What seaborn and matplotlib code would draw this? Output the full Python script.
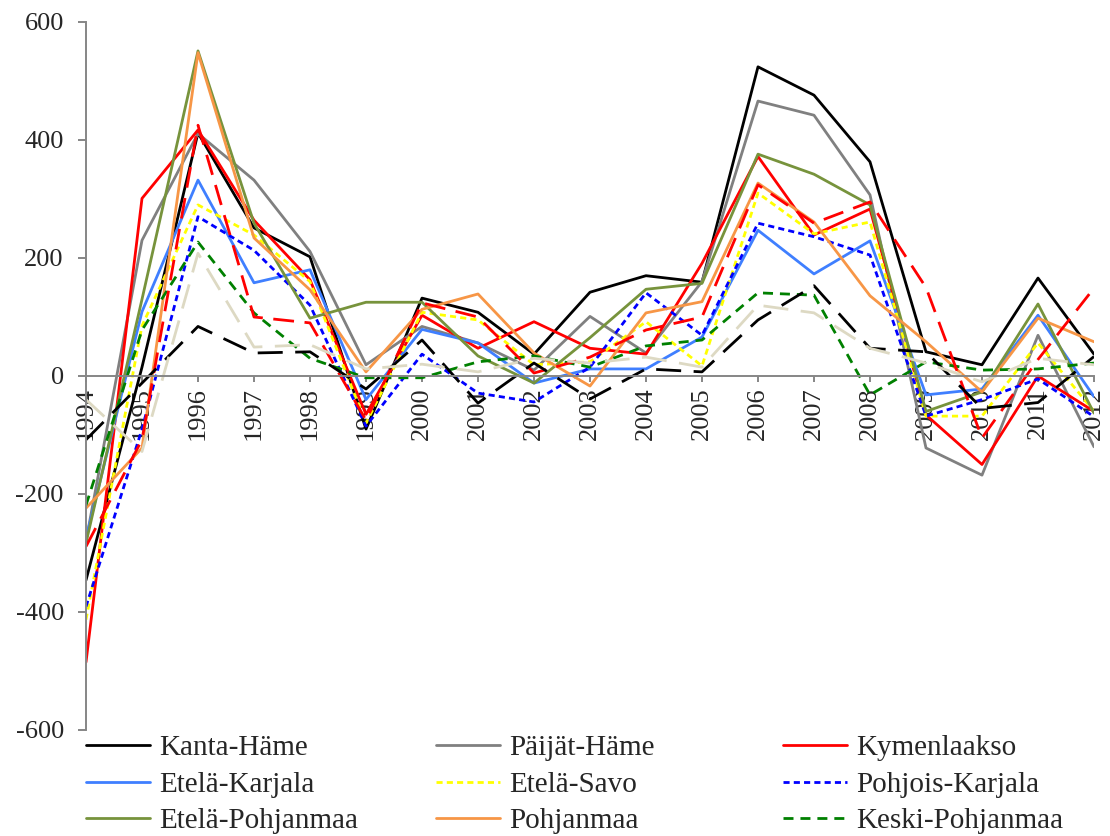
# ── Imports ──────────────────────────────────────────────────────────
import numpy as np
import pandas as pd
import matplotlib
matplotlib.use('Agg')
import matplotlib.pyplot as plt
from matplotlib.lines import Line2D
import seaborn as sns

# ── 1. Data ──────────────────────────────────────────────────────────
years = list(range(1994, 2013))

kanta_hame      = [-346, 15, 412, 251, 202, -90, 132, 108, 37, 142, 170, 159, 524, 476, 363, 41, 19, 166, 37]
paijat_hame     = [-280, 230, 411, 332, 211, 19, 84, 56, 10, 101, 39, 160, 466, 442, 307, -122, -168, 69, -120]
kymenlaakso     = [-485, 301, 417, 264, 163, -65, 103, 47, 92, 47, 37, 191, 372, 239, 283, -66, -150, 0, -60]
etela_karjala   = [-275, 109, 332, 158, 180, -40, 79, 56, -12, 12, 12, 66, 247, 173, 229, -32, -22, 103, -35]
etela_savo      = [-413, 85, 290, 239, 160, -80, 108, 95, 19, 24, 92, 17, 310, 241, 261, -68, -68, 56, -60]
pohjois_karjala = [-391, -90, 270, 213, 120, -85, 37, -29, -44, 15, 141, 69, 259, 236, 205, -68, -40, -5, -69]
etela_pohjanmaa = [-283, 130, 551, 259, 98, 125, 125, 34, -12, 65, 147, 157, 376, 342, 290, -60, -27, 122, -63]
pohjanmaa       = [-224, -122, 548, 234, 146, 7, 113, 139, 39, -17, 107, 126, 327, 261, 136, 58, -27, 98, 58]
keski_pohjanmaa = [-219, 78, 227, 107, 30, -3, -3, 24, 34, 15, 51, 61, 141, 137, -32, 24, 10, 12, 22]
# three more series are drawn but their legend entries are cut off in the original
extra_red       = [-289, -108, 425, 100, 90, -75, 124, 100, 5, 32, 78, 100, 324, 259, 295, 150, -105, 28, 149]
extra_black     = [-108, -12, 84, 39, 41, -22, 61, -46, 22, -39, 12, 7, 95, 153, 47, 41, -55, -45, 33]
extra_beige     = [-40, -128, 208, 49, 53, 12, 20, 7, 30, 22, 32, 15, 120, 107, 47, 22, -10, 30, 19]

names = ['Kanta-Häme', 'Päijät-Häme', 'Kymenlaakso',
         'Etelä-Karjala', 'Etelä-Savo', 'Pohjois-Karjala',
         'Etelä-Pohjanmaa', 'Pohjanmaa', 'Keski-Pohjanmaa',
         'sarja 10', 'sarja 11', 'sarja 12']
values = [kanta_hame, paijat_hame, kymenlaakso,
          etela_karjala, etela_savo, pohjois_karjala,
          etela_pohjanmaa, pohjanmaa, keski_pohjanmaa,
          extra_red, extra_black, extra_beige]

colors = ['#000000', '#808080', '#FF0000',
          '#3F7FFF', '#FFFF00', '#0000FF',
          '#77933C', '#F79646', '#008000',
          '#FF0000', '#000000', '#DDD9C3']
# dash patterns in units of line width ('' = solid)
dashes = ['', '', '',
          '', (2.2, 1.5), (2.2, 1.5),
          '', '', (3.6, 2.5),
          (7.5, 3.8), (9, 4.5), (9, 4.5)]

df = pd.DataFrame({
    'year': np.tile(years, len(names)),
    'region': np.repeat(names, len(years)),
    'value': np.concatenate(values),
})

# ── 2. Style ─────────────────────────────────────────────────────────
sns.set_theme(style='white')
plt.rcParams['font.family'] = ['Liberation Serif', 'DejaVu Serif']
plt.rcParams['axes.unicode_minus'] = False

LW = 2.0
AXIS_GRAY = '#868686'

fig = plt.figure(figsize=(11.1, 8.36), dpi=100)
ax = fig.add_axes([86 / 1110, 1 - 730 / 836, (1094 - 86) / 1110, (730 - 22) / 836])

# ── 3. Lines ─────────────────────────────────────────────────────────
sns.lineplot(data=df, x='year', y='value', hue='region', style='region',
             hue_order=names, style_order=names,
             palette=dict(zip(names, colors)),
             dashes=dict(zip(names, dashes)),
             linewidth=LW, legend=False, ax=ax)

# ── 4. Axes: y spine at left, x axis running through zero ────────────
ax.set_xlim(1994, 2012)
ax.set_ylim(-600, 600)
ax.set_yticks(np.arange(-600, 601, 200))
ax.set_xticks(years)
ax.set_xlabel('')
ax.set_ylabel('')

for side in ['top', 'right']:
    ax.spines[side].set_visible(False)
ax.spines['bottom'].set_position(('data', 0))
for side in ['left', 'bottom']:
    ax.spines[side].set_color(AXIS_GRAY)
    ax.spines[side].set_linewidth(1.4)

ax.tick_params(axis='y', direction='out', length=6, width=1.4, color=AXIS_GRAY,
               labelsize=19, pad=10, left=True)
ax.tick_params(axis='x', direction='out', length=4, width=1.4, color=AXIS_GRAY,
               labelsize=19, pad=4, bottom=True, labelrotation=90)

# ── 5. Legend: three columns under the plot ─────────────────────────
handles = [Line2D([], [], color=c, linewidth=LW,
                  linestyle='-' if d == '' else (0, d))
           for c, d in zip(colors[:9], dashes[:9])]

col_x = [86, 436, 783]
for col in range(3):
    idx = [col, col + 3, col + 6]
    fig.legend([handles[i] for i in idx], [names[i] for i in idx],
               loc='upper left', bbox_to_anchor=(col_x[col] / 1110, 1 - 735 / 836),
               frameon=False, fontsize=21,
               borderpad=0, borderaxespad=0, handlelength=2.2,
               handletextpad=0.3, labelspacing=0.34)

fig.savefig('out.png', dpi=100)
